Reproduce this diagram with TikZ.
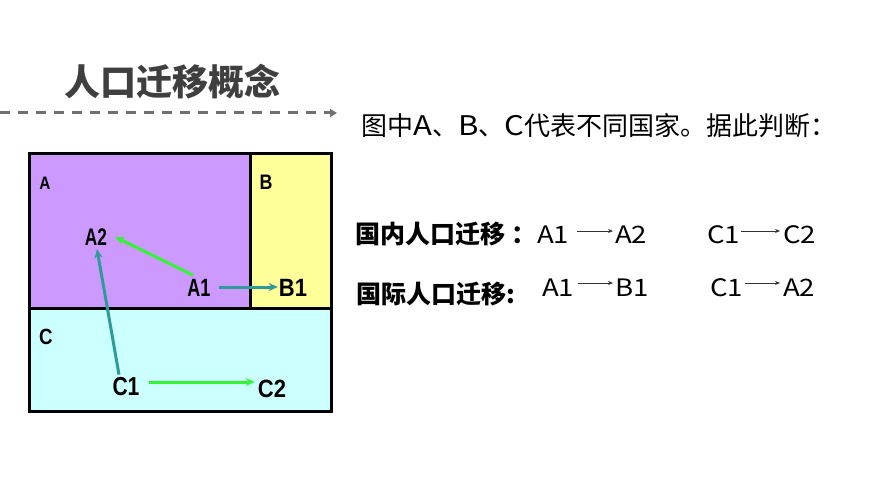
\documentclass[tikz,border=0pt]{standalone}
\usepackage{fontspec}
\newfontfamily\cjk{Noto Sans CJK SC}
\newfontfamily\latw[FakeStretch=1.15]{Noto Sans CJK SC}
\newfontfamily\lbl{Liberation Sans}
\usetikzlibrary{arrows.meta}
\definecolor{colA}{HTML}{CC99FF}
\definecolor{colB}{HTML}{FFFF99}
\definecolor{colC}{HTML}{CCFFFF}
\definecolor{arrgreen}{HTML}{33F533}
\definecolor{arrteal}{HTML}{2E9A9A}
\definecolor{titlegray}{HTML}{3F3F3F}
\definecolor{dashgray}{HTML}{707070}
\newcommand\narr[2]{\scalebox{#1}[1]{#2}}
\newcommand\lw[1]{{\latw\fontsize{27}{27}\selectfont #1}}
\begin{document}
\begin{tikzpicture}[x=1pt,y=-1pt,
  lab/.style={font=\lbl\bfseries\fontsize{#1}{#1}\selectfont, inner sep=0pt},
  border/.style={draw=black, line width=3pt},
  garr/.style={draw=arrgreen, line width=3pt, -{Stealth[length=9pt,width=8pt]}},
  tarr/.style={draw=arrteal, line width=3pt, -{Stealth[length=9pt,width=8pt]}},
  txt/.style={font=\cjk\fontsize{26}{26}\selectfont, inner sep=0pt, anchor=west},
  ltxt/.style={font=\latw\fontsize{24}{24}\selectfont, inner sep=0pt, anchor=west},
  btxt/.style={font=\cjk\bfseries\fontsize{25}{25}\selectfont, inner sep=0pt, anchor=west},
  tarrow/.style={draw=black!80, line width=0.7pt, -{Stealth[length=5pt,width=4pt]}},
  dline/.style={draw=dashgray, line width=3pt, dash pattern=on 10pt off 8pt, -{Triangle[length=7pt,width=8pt]}}
]
\useasboundingbox[fill=white] (0,0) rectangle (870,489);
% title
\node[font=\cjk\bfseries\fontsize{36}{36}\selectfont, text=titlegray, inner sep=0pt] (title) at (172,82) {人口迁移概念};
\coordinate (dl) at (0,113);
\coordinate (dr) at (337,113);
\draw[dline] (dl) -- (dr);
% regions
\fill[colA] (29,154) rectangle (250,308);
\fill[colB] (250,154) rectangle (331,308);
\fill[colC] (29,308) rectangle (331,411);
\draw[border] (29,154) rectangle (331,411);
\draw[border] (250,154) -- (250,308);
\draw[border] (29,308) -- (331,308);
% labels
\node[lab=18] (A) at (45,183) {\narr{0.85}{A}};
\node[lab=21] (B) at (266,182) {\narr{0.85}{B}};
\node[lab=22] (C) at (46,337) {\narr{0.85}{C}};
\node[lab=24] (A2) at (96,237) {\narr{0.72}{A2}};
\node[lab=25] (A1) at (199,288) {\narr{0.72}{A1}};
\node[lab=25] (B1) at (293,288) {\narr{0.88}{B1}};
\node[lab=26] (C1) at (126,387) {\narr{0.81}{C1}};
\node[lab=25] (C2) at (272,389) {\narr{0.88}{C2}};
% arrows
\draw[garr] ([xshift=-6pt,yshift=4pt]A1.north) -- ([xshift=8pt]A2.east);
\draw[tarr] ([xshift=8pt,yshift=1pt]A1.east) -- ([xshift=-1pt,yshift=1pt]B1.west);
\draw[tarr] ([xshift=-7pt,yshift=3pt]C1.north) -- ([xshift=1pt,yshift=-3.5pt]A2.south);
\draw[garr] ([xshift=9pt,yshift=5pt]C1.east) -- ([xshift=-3pt,yshift=7pt]C2.west);
% right text
\node[txt] (intro) at (361,126) {图中\lw{A}、\lw{B}、\lw{C}代表不同国家。据此判断：};
\node[btxt] (dom) at (355,234) {国内人口迁移\hspace{6pt}：};
\node[btxt] (intl) at (356,294) {国际人口迁移:};
\node[ltxt] (r1a) at (537,235) {A1};
\node[ltxt] (r1b) at (615,235) {A2};
\node[ltxt] (r1c) at (707,235) {C1};
\node[ltxt] (r1d) at (783,235) {C2};
\node[ltxt] (r2a) at (542,288) {A1};
\node[ltxt] (r2b) at (615,288) {B1};
\node[ltxt] (r2c) at (710,288) {C1};
\node[ltxt] (r2d) at (783,288) {A2};
\draw[tarrow] ([xshift=7pt,yshift=4pt]r1a.east) -- ([xshift=-2pt,yshift=4pt]r1b.west);
\draw[tarrow] ([xshift=1pt,yshift=4pt]r1c.east) -- ([xshift=-3pt,yshift=4pt]r1d.west);
\draw[tarrow] ([xshift=3pt,yshift=5pt]r2a.east) -- ([xshift=-2pt,yshift=5pt]r2b.west);
\draw[tarrow] ([xshift=2pt,yshift=5pt]r2c.east) -- ([xshift=-3pt,yshift=5pt]r2d.west);
\end{tikzpicture}
\end{document}
